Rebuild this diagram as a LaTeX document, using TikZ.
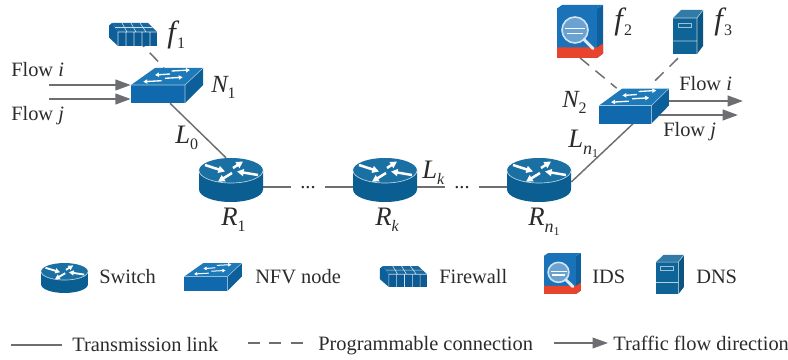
\documentclass[tikz,border=0pt]{standalone}
\usepackage{fontspec}
\setmainfont{Liberation Serif}
\usetikzlibrary{arrows.meta,calc}
\definecolor{txt}{HTML}{2B2B2B}
\definecolor{lnk}{HTML}{6D6E71}
\definecolor{bfront}{HTML}{0F69AC}
\definecolor{btop}{HTML}{1D79B8}
\definecolor{bside}{HTML}{0C5F98}
\definecolor{rtop}{HTML}{1A6FA3}
\definecolor{rside}{HTML}{0B5E92}
\definecolor{dfront}{HTML}{0F6497}
\definecolor{dside}{HTML}{0A5582}
\definecolor{idsb}{HTML}{1A72B8}
\definecolor{idsd}{HTML}{0F5F9F}
\definecolor{idsr}{HTML}{E8432C}
\newcommand{\lbl}[3][20]{{\fontsize{#1}{#1}\selectfont\itshape #2}\raisebox{-4.5pt}{\fontsize{12}{12}\selectfont #3}}
\newcommand{\lblf}[1]{{\fontsize{23}{23}\selectfont\itshape f}\kern1pt\raisebox{-4pt}{\fontsize{12}{12}\selectfont #1}}
\newcommand{\lblnn}[1]{{\fontsize{20}{20}\selectfont\itshape #1}\raisebox{-5.5pt}{\fontsize{13.5}{13.5}\selectfont\itshape n\raisebox{-2.5pt}{\fontsize{9}{9}\selectfont\upshape 1}}}
\tikzset{
  x=0.75pt,y=-0.75pt,
  every node/.style={text=txt,font=\fontsize{15.3}{16}\selectfont,inner sep=0pt,anchor=base west},
  iconbox/.style 2 args={anchor=center,minimum width=#1*0.75pt,minimum height=#2*0.75pt},
  lnkline/.style={draw=lnk,line width=1.1pt},
  dashline/.style={draw=lnk,line width=1.1pt,dash pattern=on 9pt off 6pt},
  flowline/.style={draw=lnk,line width=1.5pt,-{Triangle[length=11.5pt,width=8pt]}},
  wa/.style={white,line width=1.9pt,-{Triangle[length=5pt,width=5.2pt]}},
  wb/.style={white,line width=1pt,-{Triangle[length=3pt,width=3.2pt]}},
  smallicon/.style={wa/.style={white,line width=1.4pt,-{Triangle[length=3.6pt,width=3.8pt]}},
                    wb/.style={white,line width=.75pt,-{Triangle[length=2.4pt,width=2.6pt]}}},
  pics/routericon/.style={code={
    \fill[rside] (-32,-9.5) -- (-32,9.5) arc[start angle=180,end angle=0,x radius=32,y radius=12.5] -- (32,-9.5) -- cycle;
    \fill[rtop] (0,-9.5) ellipse[x radius=32,y radius=12.5];
    \draw[white!70!rtop,line width=.5pt] (-32,-9.5) arc[start angle=180,end angle=0,x radius=32,y radius=12.5];
    \draw[wa] (-26,-15) -- (-6,-8.5);
    \draw[wa] (27,-5) -- (6,-8.5);
    \draw[wa] (1,-7) -- (-13,1.7);
    \draw[wa] (2,-12) -- (12,-18.5);
  }},
  pics/nfvicon/.style={code={
    \fill[btop] (-36,-.5) -- (18,-.5) -- (36,-17.5) -- (-12,-17.5) -- cycle;
    \fill[bfront] (-36,-.5) -- (18,-.5) -- (18,17.5) -- (-36,17.5) -- cycle;
    \fill[bside] (18,-.5) -- (36,-17.5) -- (36,-.5) -- (18,17.5) -- cycle;
    \draw[white!60!btop,line width=.4pt] (-36,-.5) -- (18,-.5) -- (36,-17.5) (18,-.5) -- (18,17.5);
    \draw[wb] (4.7,-14.5) -- (23,-15.5);
    \draw[wb] (3,-11.5) -- (-12,-10.5);
    \draw[wb] (-2,-7.2) -- (15.7,-8.2);
    \draw[wb] (-5.3,-4.8) -- (-23.7,-3.8);
  }},
  pics/fwicon/.style={code={
    \fill[btop!85!black] (-21,-11.5) -- (15,-11.5) -- (24,-2.5) -- (-15,-2.5) -- cycle;
    \fill[bside] (-24,-9) -- (-21,-11.5) -- (-15,-2.5) -- (-15,11.5) -- (-24,3) -- cycle;
    \fill[bfront!85!black] (-15,-2.5) -- (24,-2.5) -- (24,11.5) -- (-15,11.5) -- cycle;
    \draw[white!75!btop,line width=.45pt]
      (-15,-2.5) -- (24,-2.5)
      (-15,-2.5) -- (-15,11.5) (-7,-2.5) -- (-7,11.5) (1,-2.5) -- (1,11.5) (9,-2.5) -- (9,11.5) (17,-2.5) -- (17,11.5)
      (-18,-7) -- (19.5,-7)
      (-11,-11.5) -- (-6,-2.5) (-2,-11.5) -- (3,-2.5) (7,-11.5) -- (13,-2.5);
  }},
  pics/idsicon/.style={code={
    \fill[idsd] (17,-23) -- (23,-26.5) -- (23,22) -- (17,26.5) -- cycle;
    \fill[idsb] (-23,-23) -- (17,-23) -- (23,-26.5) -- (-18,-26.5) -- cycle;
    \fill[idsb] (-23,-23) rectangle (17,17);
    \fill[idsr] (-23,16) -- (17,16) -- (23,12) -- (23,22) -- (17,26.5) -- (-23,26.5) -- cycle;
    \fill[white!35!idsb] (-5,-1.5) circle[radius=13];
    \draw[white!80!idsb,line width=1.2pt] (-5,-1.5) circle[radius=13];
    \draw[white!85!idsb,line width=2.2pt,line cap=round] (4,8) -- (13,17);
    \draw[white,line width=.9pt] (-15,-3) -- (5,-3) (-13,2) -- (3,2);
  }},
  pics/dnsicon/.style={code={
    \fill[dside] (9,-14) -- (15,-22) -- (15,14) -- (9,22) -- cycle;
    \fill[white!15!dfront] (-15,-14) -- (9,-14) -- (15,-22) -- (-7,-22) -- cycle;
    \fill[dfront] (-15,-14) rectangle (9,22);
    \draw[white!70!dfront,line width=.4pt] (-15,-14) -- (9,-14) -- (15,-22) (9,-14) -- (9,22) (-15,9) -- (9,9);
    \draw[white!60!dfront,line width=.4pt] (-10,-9) rectangle (3,-5);
  }},
}
\begin{document}
\begin{tikzpicture}
\useasboundingbox (0,0) rectangle (788,360);
% icon placeholders
\node[iconbox={48}{23}] (f1) at (133,34.5) {};
\node[iconbox={72}{35}] (N1) at (167,85.5) {};
\node[iconbox={64}{44}] (R1) at (231,180) {};
\node[iconbox={64}{44}] (Rk) at (385,180) {};
\node[iconbox={64}{44}] (Rn) at (539,180) {};
\node[iconbox={70}{35}] (N2) at (634,106) {};
\node[iconbox={46}{53}] (f2) at (580,31.5) {};
\node[iconbox={30}{44}] (f3) at (688,32) {};
\node[iconbox={47}{30}] (legR) at (64.5,278) {};
\node[iconbox={58}{28}] (legN) at (213,277) {};
\node[iconbox={47}{21}] (legF) at (403.5,276.5) {};
\node[iconbox={37}{41}] (legI) at (562.5,273.5) {};
\node[iconbox={28}{39}] (legD) at (670,274.5) {};
% dots
\node[anchor=center,inner xsep=7pt] (d1) at (308,188) {...};
\node[anchor=center,inner xsep=7pt] (d2) at (462,188) {...};
% links
\coordinate (yl) at (0,187);
\draw[lnkline] (R1.east |- yl) -- (d1.west |- yl);
\draw[lnkline] (d1.east |- yl) -- (Rk.west |- yl);
\draw[lnkline] (Rk.east |- yl) -- (d2.west |- yl);
\draw[lnkline] (d2.east |- yl) -- (Rn.west |- yl);
\draw[lnkline] ([xshift=2.25pt]N1.south) -- ([xshift=-3.75pt]R1.north);
\draw[lnkline] ([xshift=-.75pt]N2.south) -- ([yshift=-1.5pt]Rn.east);
% programmable connections
\draw[dashline] ([xshift=2.25pt,yshift=6pt]f1.south) -- ([xshift=-2.25pt]N1.north);
\draw[dashline] ([xshift=0pt,yshift=.3pt]f2.south) -- ([xshift=-13pt]N2.north);
\draw[dashline] ([xshift=-7.5pt,yshift=-3pt]f3.south) -- ([xshift=12pt,yshift=2pt]N2.north);
% flow arrows
\coordinate (fi0) at (49,85); \coordinate (fj0) at (49,99);
\coordinate (oi1) at (743,101); \coordinate (oj1) at (738,115);
\draw[flowline] (fi0) -- (N1.west |- fi0);
\draw[flowline] (fj0) -- (N1.west |- fj0);
\draw[flowline] (N2.east |- oi1) -- (oi1);
\draw[flowline] ([xshift=-10.5pt]N2.east |- oj1) -- (oj1);
% icons
\pic at (f1.center) {fwicon};
\pic at (N1.center) {nfvicon};
\pic at (R1.center) {routericon};
\pic at (Rk.center) {routericon};
\pic at (Rn.center) {routericon};
\pic[xscale=.97] at (N2.center) {nfvicon};
\pic at (f2.center) {idsicon};
\pic at (f3.center) {dnsicon};
\pic[xscale=.73,yscale=.68,smallicon] at (legR.center) {routericon};
\pic[xscale=.8,yscale=.8,smallicon] at (legN.center) {nfvicon};
\pic[xscale=.98,yscale=.91] at (legF.center) {fwicon};
\pic[xscale=.8,yscale=.77] at (legI.center) {idsicon};
\pic[xscale=.93,yscale=.89] at (legD.center) {dnsicon};
% labels
\node (tfi) at (11,77) {Flow \textit{i}};
\node (tfj) at (11,120) {Flow \textit{j}};
\node (toi) at (679,90) {Flow \textit{i}};
\node (toj) at (663,136) {Flow \textit{j}};
\node (lf1) at (167,43) {\lblf{1}};
\node (lf2) at (614,30) {\lblf{2}};
\node (lf3) at (714,30) {\lblf{3}};
\node (lN1) at (211,93) {\lbl[18.5]{N}{1}};
\node (lN2) at (562,108) {\lbl[18.5]{N}{2}};
\node (lL0) at (175,143) {\lbl{L}{0}};
\node (lLk) at (422,178) {\lbl{L}{\itshape k}};
\node (lLn) at (568,147) {\lblnn{L}};
\node (lR1) at (221,225) {\lbl{R}{1}};
\node (lRk) at (375,225) {\lbl{R}{\itshape k}};
\node (lRn) at (528,225) {\lblnn{R}};
% legend text
\node (t1) at (99,283) {Switch};
\node (t2) at (255,283) {NFV node};
\node (t3) at (439,283) {Firewall};
\node (t4) at (592,283) {IDS};
\node (t5) at (696,283) {DNS};
\node (t6) at (72,351) {Transmission link};
\node (t7) at (318,350) {Programmable connection};
\node (t8) at (613,350) {Traffic flow direction};
% legend lines
\coordinate (k1) at (11,345); \coordinate (k1e) at (62,345);
\coordinate (k2) at (248,343); \coordinate (k3) at (554,343);
\draw[lnkline] (k1) -- (k1e);
\draw[dashline,dash pattern=on 9pt off 7pt] (k2) -- ([xshift=-9pt]k2 -| t7.west);
\draw[draw=lnk,line width=1.1pt,-{Triangle[length=11.5pt,width=8pt]}] (k3) -- ([xshift=-3.75pt]k3 -| t8.west);
\end{tikzpicture}
\end{document}
